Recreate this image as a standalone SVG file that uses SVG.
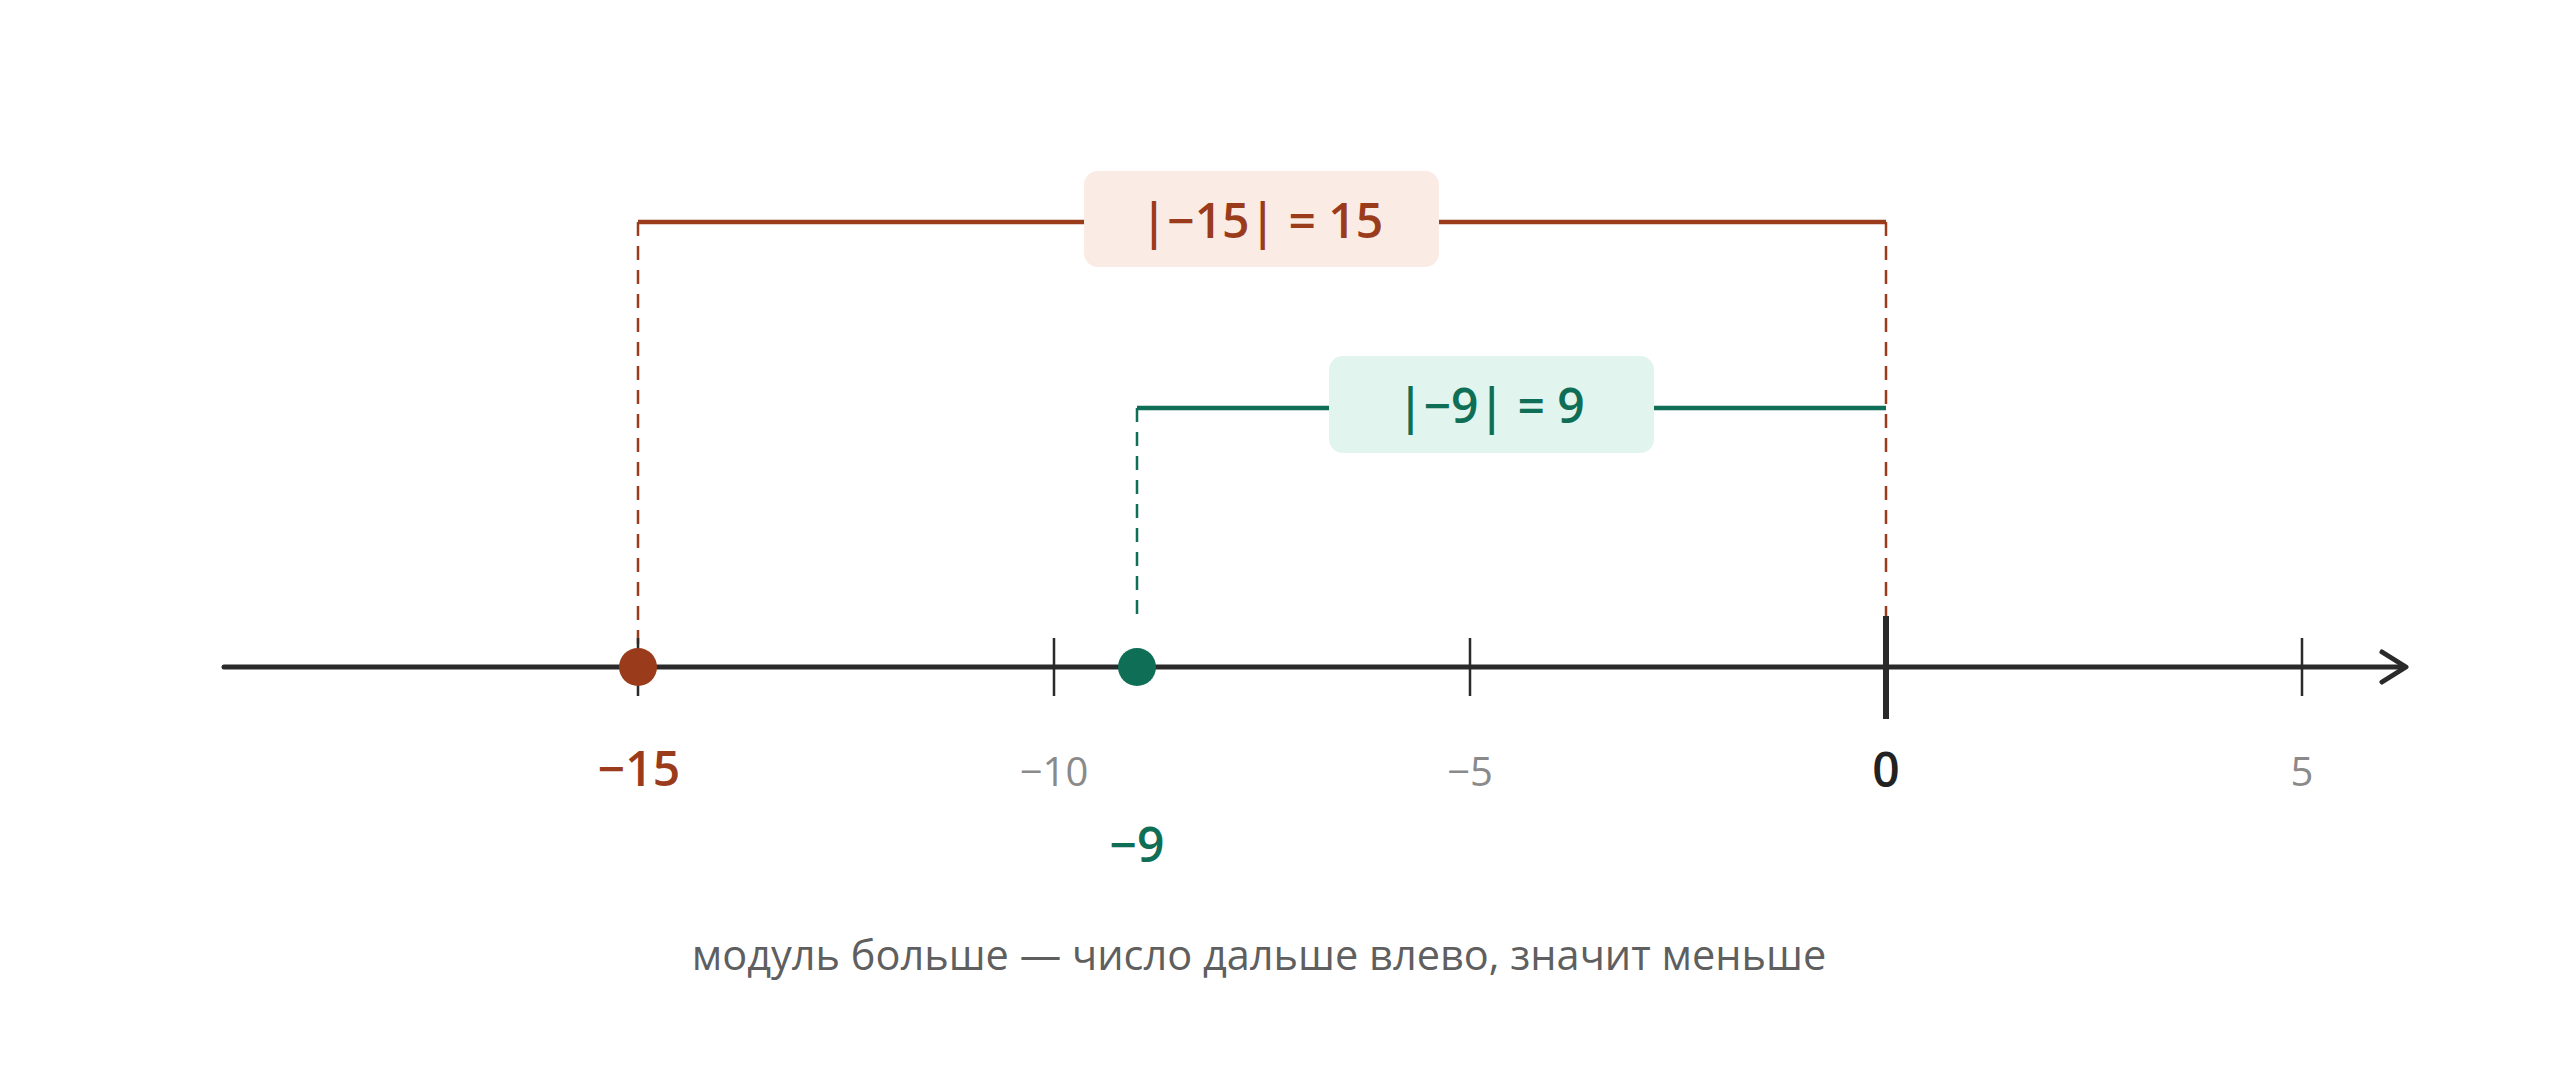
<svg xmlns="http://www.w3.org/2000/svg" width="2560" height="1076" viewBox="0 0 2560 1076">
<style>
.axis{stroke:#2a2a2a;stroke-width:5;fill:none;stroke-linecap:round;stroke-linejoin:round}
.tick{stroke:#2a2a2a;stroke-width:2.5}
.red{stroke:#9a3b1c;fill:none}
.green{stroke:#0f6e56;fill:none}
.solid{stroke-width:4.5}
.dash{stroke-width:2.5;stroke-dasharray:14 10}
.t{font-family:"Open Sans","Noto Sans","Liberation Sans",sans-serif;text-anchor:middle}
.big{font-size:48px;font-weight:600}
.gray{font-size:40px;fill:#8a8a8a}
</style>
<rect width="2560" height="1076" fill="#ffffff"/>
<g id="connectors">
<path class="red dash" d="M638 222 V646"/>
<path class="red dash" d="M1886 222 V616"/>
<path class="red solid" d="M638 222 H1886"/>
<path class="green dash" d="M1137 408 V624"/>
<path class="green solid" d="M1137 408 H1886"/>
</g>
<g id="axis">
<path class="axis" d="M224 667 H2404"/>
<path class="axis" d="M2382 652 L2406 667 L2382 682"/>
<path class="tick" d="M638 638 V696 M1054 638 V696 M1470 638 V696 M2302 638 V696"/>
<path d="M1886 616 V719" stroke="#2a2a2a" stroke-width="6"/>
<text class="t gray" x="1054" y="786">−10</text>
<text class="t gray" x="1470" y="786">−5</text>
<text class="t gray" x="2302" y="786">5</text>
<text class="t big" x="1886" y="787" fill="#222" font-weight="500">0</text>
</g>
<g id="point-15">
<circle cx="638" cy="667" r="19" fill="#9a3b1c"/>
<text class="t big" x="639" y="786" fill="#9a3b1c">−15</text>
</g>
<g id="point-9">
<circle cx="1137" cy="667" r="19" fill="#0f6e56"/>
<text class="t big" x="1137" y="862" fill="#0f6e56">−9</text>
</g>
<g id="label-15">
<rect x="1084" y="171" width="355" height="96" rx="14" fill="#fbebe5"/>
<text class="t big" x="1262" y="238" fill="#9a3b1c">|−15| = 15</text>
</g>
<g id="label-9">
<rect x="1329" y="356" width="325" height="97" rx="14" fill="#e1f5ee"/>
<text class="t big" x="1491" y="423" fill="#0f6e56">|−9| = 9</text>
</g>
<g id="caption">
<text class="t" x="1259" y="970" font-size="41.5" fill="#5f5f5f">модуль больше — число дальше влево, значит меньше</text>
</g>
</svg>
